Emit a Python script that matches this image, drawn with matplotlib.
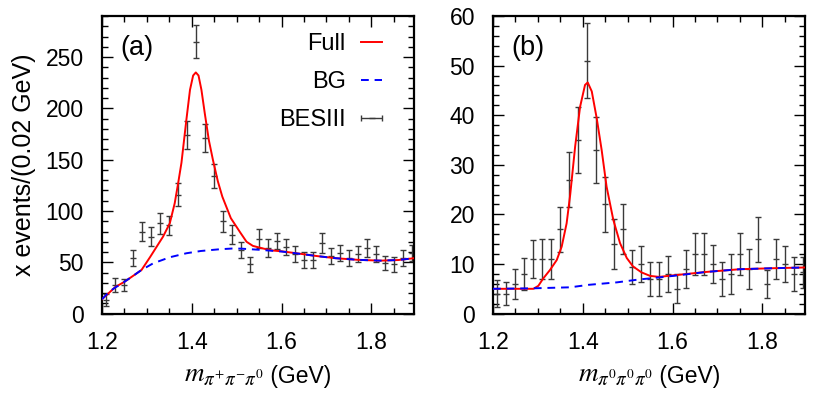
import numpy as np
import matplotlib
matplotlib.use("Agg")
import matplotlib.pyplot as plt
from matplotlib.ticker import MultipleLocator
from matplotlib.container import ErrorbarContainer
from matplotlib.legend_handler import HandlerErrorbar
from matplotlib.offsetbox import TextArea, HPacker, AnchoredOffsetbox

plt.rcParams['font.family'] = ['Liberation Sans', 'DejaVu Sans']
plt.rcParams['mathtext.fontset'] = 'stix'

# bin centres, 0.02 GeV bins
mass = [1.21, 1.23, 1.25, 1.27, 1.29, 1.31, 1.33, 1.35, 1.37, 1.39,
        1.41, 1.43, 1.45, 1.47, 1.49, 1.51, 1.53, 1.55, 1.57, 1.59,
        1.61, 1.63, 1.65, 1.67, 1.69, 1.71, 1.73, 1.75, 1.77, 1.79,
        1.81, 1.83, 1.85, 1.87, 1.89]

# (a) pi+ pi- pi0
cnt_a = [13, 28, 28, 54, 80, 75, 88, 86, 116, 174,
         265, 171, 134, 90, 77, 62, 48, 73, 64, 71,
         65, 58, 52, 52, 69, 56, 59, 54, 58, 64,
         58, 49, 48, 54, 59]
err_a = [6, 7, 6, 8, 9, 9, 10, 9, 11, 14,
         16, 14, 12, 10, 9, 8, 7, 9, 9, 8,
         8, 8, 8, 8, 10, 8, 8, 8, 8, 9,
         8, 7, 7, 8, 8]

full_a_x = [1.200, 1.230, 1.250, 1.270, 1.288, 1.307, 1.3215, 1.336, 1.351, 1.362,
            1.3696, 1.377, 1.388, 1.396, 1.403, 1.409, 1.415, 1.4215, 1.429, 1.438,
            1.447, 1.458, 1.468, 1.487, 1.508, 1.522, 1.536, 1.551, 1.566, 1.580,
            1.600, 1.640, 1.680, 1.720, 1.770, 1.820, 1.860, 1.895]
full_a_y = [14, 26, 31, 37, 42.5, 55, 65, 75, 88, 107.6,
            127, 147, 189, 218, 232, 235, 232, 218, 195, 169,
            150, 129, 114, 93, 79, 70, 66, 64.3, 62.7, 61.5,
            60.7, 58.4, 56, 54, 52.4, 51.6, 52.2, 54]

bg_a_x = [1.200, 1.210, 1.220, 1.230, 1.240, 1.250, 1.270, 1.288, 1.314, 1.351,
          1.388, 1.420, 1.462, 1.490, 1.510, 1.550, 1.600, 1.640, 1.680, 1.720,
          1.770, 1.820, 1.860, 1.895]
bg_a_y = [14, 18.5, 22.5, 25.6, 28, 31, 37, 42.5, 49, 54.9,
          58.8, 61, 62.7, 63.4, 63.3, 62.2, 60.5, 58.3, 56, 54,
          52.4, 51.6, 52.2, 54]

# (b) pi0 pi0 pi0
cnt_b = [4, 4, 6, 8, 11, 11, 11, 17, 27, 35,
         51, 33, 22, 14, 17, 9.4, 10, 7, 7, 8,
         5, 9, 12, 12, 10, 7, 8, 12, 9, 15,
         6, 11, 10, 8, 8.3]
err_b = [2.7, 2.3, 3, 3.3, 3.9, 4, 4, 4.5, 5.5, 6.7,
         7.6, 6.7, 5.5, 5, 5, 3.4, 3.6, 3.5, 3.4, 3.6,
         2.9, 3.9, 4.2, 4.2, 3.9, 3.4, 4.1, 4.3, 4, 4.5,
         2.8, 4.1, 3.7, 3.4, 3.1]

full_b_x = [1.200, 1.290, 1.301, 1.312, 1.327, 1.342, 1.353, 1.364, 1.372, 1.383,
            1.394, 1.405, 1.411, 1.420, 1.431, 1.442, 1.453, 1.468, 1.483, 1.498,
            1.512, 1.531, 1.550, 1.570, 1.590, 1.675, 1.750, 1.824, 1.895]
full_b_y = [5.0, 5.0, 5.6, 7.1, 8.8, 10.8, 13.5, 18.2, 24, 33.7,
            41.7, 46.1, 46.6, 44.8, 39.4, 33, 25.6, 18.9, 14.2, 11.2,
            9.5, 8.3, 7.6, 7.4, 7.6, 8.4, 8.95, 9.15, 9.3]

bg_b_x = [1.200, 1.290, 1.372, 1.413, 1.476, 1.527, 1.550, 1.601, 1.675, 1.750,
          1.824, 1.895]
bg_b_y = [5.0, 5.1, 5.3, 5.8, 6.3, 6.9, 7.1, 7.6, 8.4, 8.95,
          9.15, 9.3]

W, H = 814, 396
fig = plt.figure(figsize=(W / 100, H / 100), dpi=100)
ax_a = fig.add_axes([102 / W, (H - 313.6) / H, 312 / W, 297.6 / H])
ax_b = fig.add_axes([493 / W, (H - 313.6) / H, 312 / W, 297.6 / H])

ebar_kw = dict(fmt='_', color='#3a3a3a', ecolor='#3a3a3a', elinewidth=1.0,
               capsize=2.5, capthick=1.0, markersize=5, markeredgewidth=1.0)

for ax, cnt, err, fx, fy, bx, by in [
        (ax_a, cnt_a, err_a, full_a_x, full_a_y, bg_a_x, bg_a_y),
        (ax_b, cnt_b, err_b, full_b_x, full_b_y, bg_b_x, bg_b_y)]:
    ax.errorbar(mass, cnt, yerr=err, zorder=2, **ebar_kw)
    ax.plot(fx, fy, color='red', lw=1.4, zorder=3, label='Full')
    ax.plot(bx, by, color='blue', lw=1.4, dashes=(4, 3), zorder=4, label='BG')
    ax.set_xlim(1.2, 1.895)
    ax.xaxis.set_major_locator(MultipleLocator(0.2))
    ax.xaxis.set_minor_locator(MultipleLocator(0.05))
    ax.tick_params(which='both', direction='in', top=True, right=True,
                   labelsize=16.5)
    ax.tick_params(axis='x', pad=12.5)
    ax.tick_params(axis='y', pad=13)
    ax.tick_params(which='major', length=8, width=1.0)
    ax.tick_params(which='minor', length=4, width=1.0)
    for s in ax.spines.values():
        s.set_linewidth(1.6)

ax_a.set_ylim(0, 290)
ax_a.yaxis.set_major_locator(MultipleLocator(50))
ax_a.yaxis.set_minor_locator(MultipleLocator(10))
ax_b.set_ylim(0, 60)
ax_b.yaxis.set_major_locator(MultipleLocator(10))
ax_b.yaxis.set_minor_locator(MultipleLocator(2))

ax_a.set_ylabel('x events/(0.02 GeV)', fontsize=18, labelpad=7)

# x labels: italic mass symbol a bit larger than the unit
for ax, sym in [(ax_a, r'$m_{\pi^{+}\pi^{-}\pi^{0}}$'),
                (ax_b, r'$m_{\pi^{0}\pi^{0}\pi^{0}}$')]:
    lab = HPacker(children=[TextArea(sym, textprops=dict(fontsize=19.5)),
                            TextArea(' (GeV)', textprops=dict(fontsize=16.5))],
                  align='baseline', pad=0, sep=0)
    ax.add_artist(AnchoredOffsetbox(loc='upper center', child=lab, pad=0,
                                    borderpad=0, frameon=False,
                                    bbox_to_anchor=(0.5, -0.165),
                                    bbox_transform=ax.transAxes))

ax_a.text(0.112, 0.892, '(a)', transform=ax_a.transAxes, fontsize=19.5,
          ha='center', va='center')
ax_b.text(0.112, 0.892, '(b)', transform=ax_b.transAxes, fontsize=19.5,
          ha='center', va='center')

# legend proxy for the data (horizontal bar with caps)
proxy = ax_a.errorbar([np.nan], [np.nan], xerr=[0.01], fmt='_', color='#3a3a3a',
                      ecolor='#3a3a3a', elinewidth=1.0, capsize=2.5, markersize=5,
                      label='BESIII')
h, l = ax_a.get_legend_handles_labels()
order = [l.index('Full'), l.index('BG'), l.index('BESIII')]
ax_a.legend([h[i] for i in order], [l[i] for i in order],
            loc='upper right', bbox_to_anchor=(0.967, 1.015), frameon=False,
            markerfirst=False, fontsize=17, handlelength=0.9,
            handletextpad=0.65, labelspacing=0.69,
            handler_map={ErrorbarContainer: HandlerErrorbar(xerr_size=0.45)})

fig.savefig('out.png', dpi=100)
